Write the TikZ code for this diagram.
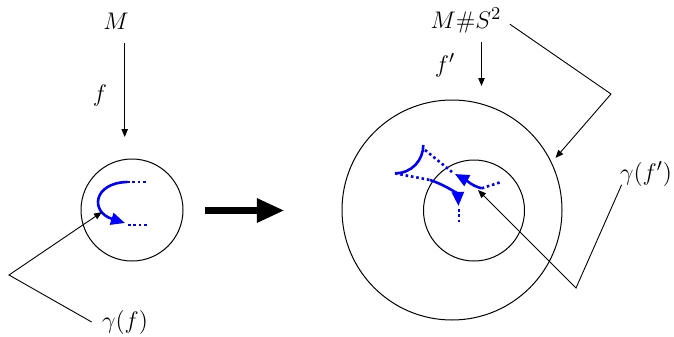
\documentclass[tikz,border=0pt]{standalone}
\usepackage{tikz}
\usetikzlibrary{arrows.meta, positioning, calc}
\definecolor{myblue}{RGB}{0,0,255}
\definecolor{mydark}{RGB}{0,0,0}
\tikzset{
  disc/.style={circle, draw=mydark, inner sep=0pt, outer sep=0pt, line width=0.5pt},
  lbl/.style={font=\fontsize{13}{15}\selectfont, inner sep=1pt},
  pointer/.style={-{Triangle[length=4pt, width=3.2pt]}, line width=0.45pt, color=mydark},
  flow/.style={myblue, line width=1.3pt},
  flowdot/.style={myblue, line width=1.3pt, dash pattern=on 1.3pt off 1.4pt},
  flowarrow/.style={-{Triangle[length=7pt, width=6pt]}, myblue, line width=1.3pt},
  bigarrow/.style={-{Triangle[length=13.8pt, width=11.3pt]}, line width=3.9pt, color=mydark}
}

\begin{document}
\begin{tikzpicture}[x=0.5pt, y=-0.5pt]
  \useasboundingbox (0,0) rectangle (674,337);

  % Left: M and its disc
  \node[lbl, anchor=base] (M) at (116,29) {$M$};
  \node[lbl] (f) at (100,95) {$f$};
  \coordinate (mfoot) at (124.7,137);
  \draw[pointer] ([yshift=-7pt]mfoot |- M.base) -- (mfoot);
  \node[disc, minimum size=51pt] (leftdisc) at (132,210) {};

  \draw[flowdot] (127,182) -- (147,182);
  \draw[flowdot] (128,225) -- (147,225);
  \draw[flowarrow] (127,182) .. controls (93,183) and (90,212) .. (125,223);

  \node[lbl] (gf) at (125,322) {$\gamma(f)$};
  \coordinate (gfbend) at (9,275);
  \coordinate (gftip) at (102,212);
  \draw[pointer] ([xshift=-4pt]gf.west) -- (gfbend) -- (gftip);

  % Big arrow
  \coordinate (bigstart) at (205,210.5);
  \coordinate (bigend) at (284.5,210.5);
  \draw[bigarrow] (bigstart) -- (bigend);

  % Right: M # S^2 and its discs
  \node[lbl, anchor=base] (ms) at (466,28) {$M\#S^2$};
  \node[lbl] (fp) at (445,65) {$f'$};
  \coordinate (msfoot) at (481.5,86);
  \draw[pointer] ([yshift=-7pt]msfoot |- ms.base) -- (msfoot);
  \node[disc, minimum size=110pt] (outerdisc) at (452,210) {};
  \node[disc, minimum size=50.5pt] (innerdisc) at (474,210.5) {};

  \coordinate (msbend) at (611,94);
  \coordinate (mstip) at (555.5,158);
  \draw[pointer] ([xshift=3pt,yshift=-2pt]ms.east) -- (msbend) -- (mstip);

  \draw[flow] (423.3,145) .. controls (423.3,160) and (412,173.3) .. (395,173.3);
  \draw[flowdot] (425,150) -- (452,172);
  \draw[flowdot] (395,173.3) -- (430,180);
  \draw[flowarrow] (430,180) .. controls (448,186) and (458,195) .. (458.5,206);
  \draw[flowdot] (459,209) -- (459,224);
  \draw[flowarrow] (481.7,188.3) .. controls (472,186) and (466,180) .. (455,174);
  \draw[flowdot] (481.7,188.3) -- (502,181.7);

  \node[lbl] (gfp) at (646,174) {$\gamma(f')$};
  \coordinate (gfpbend) at (576,288);
  \coordinate (gfptip) at (478,190);
  \draw[pointer] ([xshift=2pt,yshift=2pt]gfp.south west) -- (gfpbend) -- (gfptip);
\end{tikzpicture}
\end{document}
